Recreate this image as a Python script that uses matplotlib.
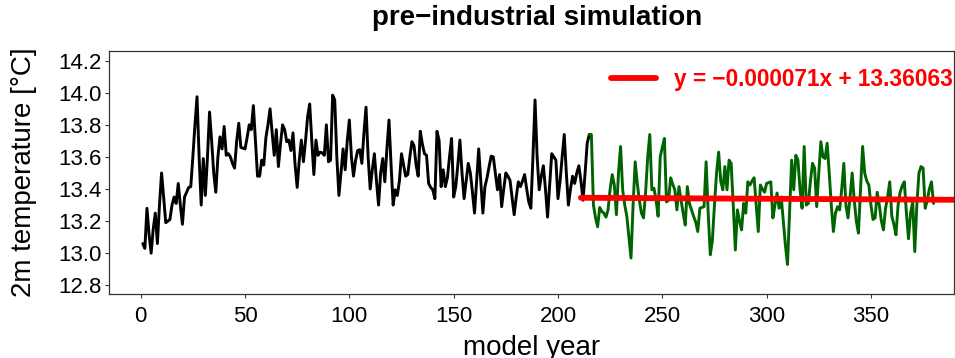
import numpy as np
import matplotlib
matplotlib.use("Agg")
import matplotlib.pyplot as plt
from matplotlib.ticker import FixedLocator, FormatStrFormatter

plt.rcParams['font.family'] = ['Liberation Sans', 'DejaVu Sans']

# ---------------- data ----------------
black_start_year = 1
black_values = [
    13.06, 13.03, 13.28, 13.12, 13.00, 13.15, 13.25, 13.06, 13.30, 13.50,
    13.35, 13.19, 13.20, 13.21, 13.30, 13.35, 13.31, 13.435, 13.30, 13.18,
    13.35, 13.38, 13.41, 13.415, 13.60, 13.80, 13.975, 13.60, 13.30, 13.59,
    13.36, 13.60, 13.88, 13.70, 13.50, 13.38, 13.60, 13.725, 13.65, 13.79,
    13.61, 13.62, 13.60, 13.56, 13.53, 13.70, 13.81, 13.66, 13.655, 13.65,
    13.72, 13.80, 13.77, 13.92, 13.70, 13.48, 13.48, 13.58, 13.55, 13.72,
    13.80, 13.90, 13.75, 13.61, 13.77, 13.54, 13.68, 13.80, 13.77, 13.695,
    13.705, 13.64, 13.75, 13.55, 13.41, 13.58, 13.705, 13.57, 13.70, 13.85,
    13.93, 13.70, 13.49, 13.705, 13.61, 13.63, 13.625, 13.61, 13.80, 13.57,
    13.58, 13.985, 13.955, 13.60, 13.36, 13.50, 13.65, 13.52, 13.70, 13.83,
    13.60, 13.48, 13.58, 13.64, 13.645, 13.56, 13.75, 13.91, 13.60, 13.40,
    13.52, 13.62, 13.45, 13.30, 13.50, 13.59, 13.445, 13.65, 13.83, 13.55,
    13.30, 13.395, 13.36, 13.45, 13.62, 13.55, 13.48, 13.49, 13.60, 13.695,
    13.67, 13.55, 13.48, 13.76, 13.68, 13.62, 13.61, 13.435, 13.41, 13.395,
    13.34, 13.76, 13.705, 13.415, 13.52, 13.415, 13.47, 13.60, 13.715, 13.35,
    13.415, 13.55, 13.705, 13.50, 13.34, 13.45, 13.56, 13.50, 13.38, 13.25,
    13.45, 13.65, 13.45, 13.25, 13.415, 13.47, 13.54, 13.605, 13.60, 13.50,
    13.395, 13.49, 13.29, 13.40, 13.50, 13.48, 13.455, 13.35, 13.24, 13.35,
    13.445, 13.415, 13.45, 13.49, 13.40, 13.32, 13.28, 13.60, 13.955, 13.60,
    13.395, 13.48, 13.545, 13.40, 13.225, 13.42, 13.62, 13.60, 13.58, 13.34,
    13.45, 13.60, 13.74, 13.50, 13.30, 13.40, 13.48, 13.435, 13.50, 13.545,
    13.45, 13.33, 13.50, 13.685, 13.74,
]

green_start_year = 215
green_values = [
    13.74, 13.74, 13.30, 13.22, 13.165, 13.285, 13.26, 13.25, 13.225, 13.27,
    13.40, 13.49, 13.425, 13.24, 13.50, 13.665, 13.395, 13.30, 13.23, 13.10,
    12.97, 13.30, 13.57, 13.435, 13.33, 13.25, 13.22, 13.38, 13.60, 13.74,
    13.395, 13.405, 13.33, 13.23, 13.60, 13.66, 13.715, 13.32, 13.33, 13.47,
    13.43, 13.395, 13.27, 13.415, 13.33, 13.25, 13.175, 13.415, 13.31, 13.27,
    13.23, 13.195, 13.135, 13.28, 13.285, 13.29, 13.57, 13.25, 12.99, 13.08,
    13.30, 13.50, 13.63, 13.45, 13.395, 13.54, 13.395, 13.58, 13.56, 13.30,
    13.02, 13.27, 13.20, 13.145, 13.31, 13.25, 13.445, 13.425, 13.45, 13.47,
    13.30, 13.135, 13.425, 13.40, 13.38, 13.435, 13.44, 13.445, 13.22, 13.30,
    13.375, 13.28, 13.35, 13.20, 13.05, 12.93, 13.25, 13.58, 13.395, 13.61,
    13.58, 13.40, 13.28, 13.665, 13.30, 13.31, 13.45, 13.56, 13.53, 13.29,
    13.50, 13.695, 13.60, 13.59, 13.685, 13.50, 13.30, 13.135, 13.25, 13.29,
    13.27, 13.40, 13.56, 13.30, 13.22, 13.35, 13.50, 13.33, 13.20, 13.125,
    13.40, 13.665, 13.50, 13.45, 13.425, 13.30, 13.21, 13.22, 13.38, 13.30,
    13.20, 13.145, 13.28, 13.35, 13.445, 13.23, 13.18, 13.115, 13.30, 13.38,
    13.42, 13.445, 13.25, 13.09, 13.25, 13.32, 13.01, 13.30, 13.50, 13.54,
    13.53, 13.28, 13.33, 13.40, 13.445, 13.31,
]

trend_slope = -0.000071
trend_intercept = 13.36063
trend_start_year = 211
trend_label = "y = \u22120.000071x + 13.36063"

x_ticks = [0, 50, 100, 150, 200, 250, 300, 350]
y_ticks = [12.8, 13.0, 13.2, 13.4, 13.6, 13.8, 14.0, 14.2]

title = "pre\u2212industrial simulation"
xlabel = "model year"
ylabel = "2m temperature [\u00b0C]"

# ---------------- figure ----------------
W, H, DPI = 955, 358, 100
fig = plt.figure(figsize=(W / DPI, H / DPI), dpi=DPI)
ax_left, ax_right, ax_top, ax_bottom = 109.4, 954.4, 50.7, 294.3
ax = fig.add_axes([ax_left / W, 1 - ax_bottom / H,
                   (ax_right - ax_left) / W, (ax_bottom - ax_top) / H])

black_years = np.arange(black_start_year, black_start_year + len(black_values))
green_years = np.arange(green_start_year, green_start_year + len(green_values))

ax.plot(black_years, black_values, color="black", lw=2.1,
        solid_joinstyle="round", solid_capstyle="round", zorder=3)
ax.plot(green_years, green_values, color="#006400", lw=2.1,
        solid_joinstyle="round", solid_capstyle="round", zorder=3)

xlim = (-15, 390)
tx = np.array([trend_start_year, 400.0])
ty = trend_slope * tx + trend_intercept
ax.plot(tx, ty, color="red", lw=4.2, solid_capstyle="round", zorder=4,
        label=trend_label)

ax.set_xlim(*xlim)
ax.set_ylim(12.744, 14.262)

ax.xaxis.set_major_locator(FixedLocator(x_ticks))
ax.yaxis.set_major_locator(FixedLocator(y_ticks))
ax.yaxis.set_major_formatter(FormatStrFormatter('%.1f'))
ax.tick_params(axis='x', labelsize=16, length=2.9, width=0.8, pad=5.3,
               color='#333333')
ax.tick_params(axis='y', labelsize=16, length=2.9, width=0.8, pad=2.7,
               color='#333333')
for sp in ax.spines.values():
    sp.set_linewidth(0.9)
    sp.set_color('#333333')

ax.set_xlabel(xlabel, fontsize=20)
ax.set_ylabel(ylabel, fontsize=20)
ax.yaxis.set_label_coords(-0.0857, 0.5)
ax.xaxis.set_label_coords(0.5, -0.168)
ax.xaxis.label.set_verticalalignment('top')

ax.set_title(title, fontsize=20, fontweight='bold', pad=18.5)
ax.title.set_x((537.5 - ax_left) / (ax_right - ax_left))

leg = ax.legend(loc='center right', bbox_to_anchor=(953 / W, 1 - 79.5 / H),
                bbox_transform=fig.transFigure, frameon=False,
                borderpad=0, borderaxespad=0, handlelength=1.95,
                handletextpad=0.82,
                prop={'size': 16.3, 'weight': 'bold'})
for t in leg.get_texts():
    t.set_color('red')

fig.savefig("out.png", dpi=DPI)
